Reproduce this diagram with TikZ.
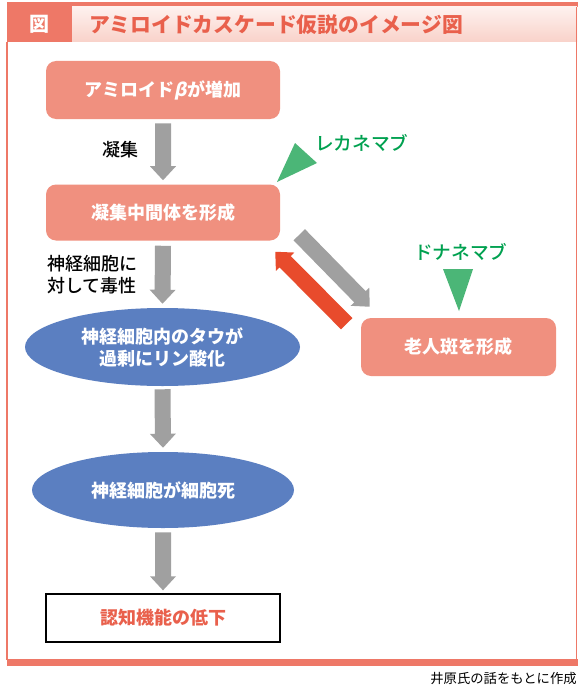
\documentclass[tikz,border=0pt]{standalone}
\usepackage{fontspec}
\setmainfont{Noto Sans CJK JP}
\newfontfamily\jpmed{Noto Sans CJK JP Medium}
\newfontfamily\slantjp{Noto Sans CJK JP}[FakeSlant=0.2]
\usetikzlibrary{shapes.geometric,calc}
\definecolor{hdr}{HTML}{EE7867}
\definecolor{pinktop}{HTML}{FEF1EE}
\definecolor{pinkbot}{HTML}{F9D2CA}
\definecolor{titlered}{HTML}{E9604C}
\definecolor{salmon}{HTML}{F0907F}
\definecolor{ellblue}{HTML}{5B7FC1}
\definecolor{arrgray}{HTML}{A0A0A0}
\definecolor{arrred}{HTML}{E84B2C}
\definecolor{trigreen}{HTML}{4BB677}
\definecolor{txtgreen}{HTML}{00A150}
\newcommand{\blkarrow}[3]{%
  \path (#2) coordinate (ba-s) (#3) coordinate (ba-e);
  \path ($(ba-e)!10.5pt!(ba-s)$) coordinate (ba-h);
  \fill[#1] ($(ba-s)!6pt!90:(ba-e)$) -- ($(ba-h)!6pt!90:(ba-e)$) -- ($(ba-h)!9.75pt!90:(ba-e)$) -- (ba-e) -- ($(ba-h)!9.75pt!-90:(ba-e)$) -- ($(ba-h)!6pt!-90:(ba-e)$) -- ($(ba-s)!6pt!-90:(ba-e)$) -- cycle;}
\begin{document}
\begin{tikzpicture}[x=0.75pt,y=-0.75pt,
  boxtxt/.style={font=\fontsize{13.5pt}{16.5pt}\selectfont\bfseries, text=white, align=center},
  salbox/.style={boxtxt, fill=salmon, rounded corners=7.5pt, minimum width=175.5pt, inner sep=0pt},
  ellnode/.style={boxtxt, ellipse, fill=ellblue, inner sep=0pt},
  lbl/.style={font=\jpmed\fontsize{13.5pt}{16.5pt}\selectfont, text=black, align=left},
  drug/.style={font=\jpmed\fontsize{14pt}{16.5pt}\selectfont, text=txtgreen},
  framecol/.style={draw=hdr, line width=1.1pt}]
\useasboundingbox (0,0) rectangle (587,692);
\fill[white] (0,0) rectangle (587,692);
% header
\fill[hdr] (7,2) rectangle (578,7);
\fill[hdr] (7,7) rectangle (72,42);
\shade[top color=pinktop, bottom color=pinkbot] (72,7) rectangle (577,42);
\node[font=\fontsize{15pt}{18pt}\selectfont\bfseries, text=white] (zu) at (39.5,24.5) {図};
\node[font=\fontsize{15.6pt}{19pt}\selectfont\bfseries, text=titlered, anchor=west, inner sep=0pt] (title) at (89,24.5) {アミロイドカスケード仮説のイメージ図};
% frame
\draw[framecol] (7,42) -- (7,660);
\draw[framecol] (576.5,7) -- (576.5,660);
\fill[hdr] (7,659) rectangle (578,666);
\node[font=\fontsize{10pt}{12pt}\selectfont, anchor=east, inner sep=0pt] (src) at (577,678) {井原氏の話をもとに作成};
% nodes
\node[salbox, minimum height=43.5pt] (b1) at (163,90) {アミロイド{\slantjp\bfseries β}が増加};
\node[salbox, minimum height=42pt] (b2) at (163,212.5) {凝集中間体を形成};
\node[ellnode, minimum width=206.25pt, minimum height=58.5pt] (e1) at (162.5,347) {神経細胞内のタウが\\過剰にリン酸化};
\node[ellnode, minimum width=196.5pt, minimum height=57pt] (e2) at (163,490) {神経細胞が細胞死};
\node[boxtxt, text=titlered, draw=black, line width=1pt, fill=white, minimum width=175.5pt, minimum height=36pt, inner sep=0pt] (b3) at (163,618) {認知機能の低下};
\node[salbox, minimum width=146.25pt, minimum height=43.5pt] (b4) at (458.5,347) {老人斑を形成};
% labels
\node[lbl, anchor=west, inner sep=0pt] (l1) at (102,150) {凝集};
\node[lbl, anchor=north west, inner sep=0pt] (l2) at (47,255) {神経細胞に\\対して毒性};
\node[drug, anchor=west, inner sep=0pt] (d1) at (315,143) {レカネマブ};
\node[drug, anchor=west, inner sep=0pt] (d2) at (414,252) {ドナネマブ};
% triangles
\fill[trigreen] (295,143) -- (317,163) -- (277,182) -- cycle;
\fill[trigreen] (443,269) -- (473,269) -- (459,311) -- cycle;
% arrows
\blkarrow{arrgray}{$(b1.south)+(0,4)$}{$(b2.north)+(0,-4)$}
\blkarrow{arrgray}{$(b2.south)+(0,5)$}{$(e1.north)+(0,-4)$}
\blkarrow{arrgray}{$(e1.south)+(0,3)$}{$(e2.north)+(0,-4)$}
\blkarrow{arrgray}{$(e2.south)+(0,4)$}{$(b3.north)+(0,-3)$}
\blkarrow{arrgray}{$(b2.south east)+(19,-6)$}{$(b4.north west)+(9,-11)$}
\blkarrow{arrred}{$(b4.north west)+(-14,6)$}{$(b2.south east)+(-5,11)$}
\end{tikzpicture}
\end{document}
